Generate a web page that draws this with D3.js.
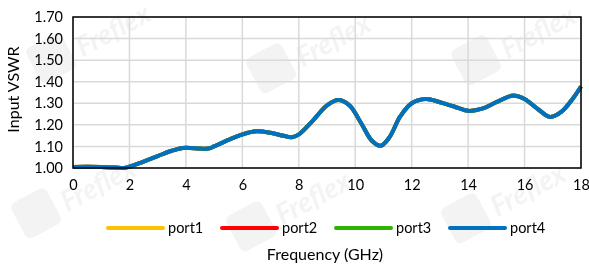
<!doctype html>
<html lang="en">
<head>
<meta charset="utf-8">
<title>Input VSWR</title>
<script src="https://cdn.jsdelivr.net/npm/d3@7"></script>
<style>
  body { margin: 0; background: #fff; }
  svg text { font-family: Lato, "Open Sans", sans-serif; fill: #000; }
</style>
</head>
<body>
<svg id="chart" width="589" height="264"></svg>
<script>
// data
var freq  = [0, 0.5, 1, 1.5, 1.8, 2, 2.5, 3, 3.5, 3.9, 4.5, 4.8, 5, 5.5, 6, 6.5, 7, 7.5, 7.75, 8, 8.5, 9, 9.4, 9.8, 10.2, 10.6, 10.9, 11.2, 11.6, 12, 12.5, 13, 13.5, 14, 14.5, 15, 15.6, 16, 16.5, 16.9, 17.3, 17.7, 18];
var port1 = [1.005, 1.006, 1.005, 1.002, 1.000, 1.006, 1.030, 1.055, 1.080, 1.093, 1.090, 1.090, 1.100, 1.130, 1.156, 1.170, 1.163, 1.148, 1.143, 1.156, 1.220, 1.290, 1.315, 1.290, 1.210, 1.125, 1.103, 1.140, 1.240, 1.300, 1.320, 1.305, 1.285, 1.265, 1.275, 1.305, 1.336, 1.320, 1.270, 1.237, 1.260, 1.320, 1.378];
var port2 = [1.005, 1.006, 1.005, 1.002, 1.000, 1.006, 1.030, 1.055, 1.080, 1.093, 1.090, 1.090, 1.100, 1.130, 1.156, 1.170, 1.163, 1.148, 1.143, 1.156, 1.220, 1.290, 1.315, 1.290, 1.210, 1.125, 1.103, 1.140, 1.240, 1.300, 1.320, 1.305, 1.285, 1.265, 1.275, 1.305, 1.336, 1.320, 1.270, 1.237, 1.260, 1.320, 1.378];
var port3 = [1.005, 1.006, 1.005, 1.002, 1.000, 1.006, 1.030, 1.055, 1.080, 1.093, 1.090, 1.090, 1.100, 1.130, 1.156, 1.170, 1.163, 1.148, 1.143, 1.156, 1.220, 1.290, 1.315, 1.290, 1.210, 1.125, 1.103, 1.140, 1.240, 1.300, 1.320, 1.305, 1.285, 1.265, 1.275, 1.305, 1.336, 1.320, 1.270, 1.237, 1.260, 1.320, 1.378];
var port4 = [1.005, 1.006, 1.005, 1.002, 1.000, 1.006, 1.030, 1.055, 1.080, 1.093, 1.090, 1.090, 1.100, 1.130, 1.155, 1.170, 1.163, 1.148, 1.143, 1.155, 1.220, 1.290, 1.315, 1.290, 1.210, 1.125, 1.103, 1.140, 1.240, 1.300, 1.320, 1.305, 1.285, 1.265, 1.275, 1.305, 1.335, 1.320, 1.270, 1.237, 1.260, 1.320, 1.378];
var seriesNames = ["port1", "port2", "port3", "port4"];
var seriesColors = ["#ffc000", "#ff0000", "#2eb400", "#0070c0"];
var xTicks = [0, 2, 4, 6, 8, 10, 12, 14, 16, 18];
var yTicks = [1.0, 1.1, 1.2, 1.3, 1.4, 1.5, 1.6, 1.7];

var svg = d3.select("#chart");
var mLeft = 73, mRight = 581, mTop = 17, mBottom = 168;

var x = d3.scaleLinear().domain([0, 18]).range([mLeft, mRight]);
var y = d3.scaleLinear().domain([1.0, 1.7]).range([mBottom, mTop]);

// watermark
var wm = svg.append("g").attr("opacity", 0.05);
[[40, 80], [260, 90], [465, 82], [25, 235], [240, 248], [455, 240]].forEach(function (p) {
  var g = wm.append("g").attr("transform", "translate(" + p[0] + "," + p[1] + ") rotate(-28)");
  g.append("rect").attr("x", 0).attr("y", -34).attr("width", 40).attr("height", 40).attr("rx", 6).attr("fill", "#000");
  g.append("text").attr("x", 48).attr("y", 0).style("font-size", "28px").style("font-weight", "bold")
    .style("font-style", "italic").text("Freflex");
});

// grid
svg.append("g").selectAll("line").data(xTicks).join("line")
  .attr("x1", d => x(d)).attr("x2", d => x(d)).attr("y1", mTop).attr("y2", mBottom)
  .attr("stroke", "#d9d9d9").attr("stroke-width", 1.5);
svg.append("g").selectAll("line").data(yTicks).join("line")
  .attr("x1", mLeft).attr("x2", mRight).attr("y1", d => y(d)).attr("y2", d => y(d))
  .attr("stroke", "#d9d9d9").attr("stroke-width", 1.5);

// axes (labels only)
var xAxis = svg.append("g").attr("transform", "translate(0," + mBottom + ")")
  .call(d3.axisBottom(x).tickValues(xTicks).tickSize(0).tickPadding(12));
var yAxis = svg.append("g").attr("transform", "translate(" + (mLeft - 1) + ",0)")
  .call(d3.axisLeft(y).tickValues(yTicks).tickFormat(d3.format(".2f")).tickSize(0).tickPadding(9));
[xAxis, yAxis].forEach(function (a) {
  a.select(".domain").remove();
  a.selectAll("text").style("font-size", "14.5px").style("font-family", "Lato, sans-serif").attr("fill", "#000");
});

// series
var allValues = [port1, port2, port3, port4];
var line = d3.line().x(d => x(d[0])).y(d => y(d[1])).curve(d3.curveCatmullRom.alpha(0.5));
allValues.forEach(function (vals, i) {
  svg.append("path").datum(freq.map((f, j) => [f, vals[j]]))
    .attr("fill", "none").attr("stroke", seriesColors[i]).attr("stroke-width", 4)
    .attr("stroke-linejoin", "round").attr("d", line);
});

// plot border
svg.append("rect").attr("x", mLeft).attr("y", mTop).attr("width", mRight - mLeft).attr("height", mBottom - mTop)
  .attr("fill", "none").attr("stroke", "#000").attr("stroke-width", 1.5);

// titles
svg.append("text").attr("transform", "translate(19," + ((mTop + mBottom) / 2 - 3) + ") rotate(-90)")
  .attr("text-anchor", "middle").style("font-size", "16px").text("Input VSWR");
svg.append("text").attr("x", (mLeft + mRight) / 2 - 2).attr("y", 260)
  .attr("text-anchor", "middle").style("font-size", "16px").text("Frequency (GHz)");

// legend
var leg = svg.append("g").selectAll("g").data(seriesNames).join("g")
  .attr("transform", (d, i) => "translate(" + (108 + i * 114) + ",228)");
leg.append("line").attr("x1", 0).attr("x2", 55).attr("y1", 0).attr("y2", 0)
  .attr("stroke", (d, i) => seriesColors[i]).attr("stroke-width", 4).attr("stroke-linecap", "round");
leg.append("text").attr("x", 60).attr("y", 5).style("font-size", "14.5px").text(d => d);
</script>
</body>
</html>
